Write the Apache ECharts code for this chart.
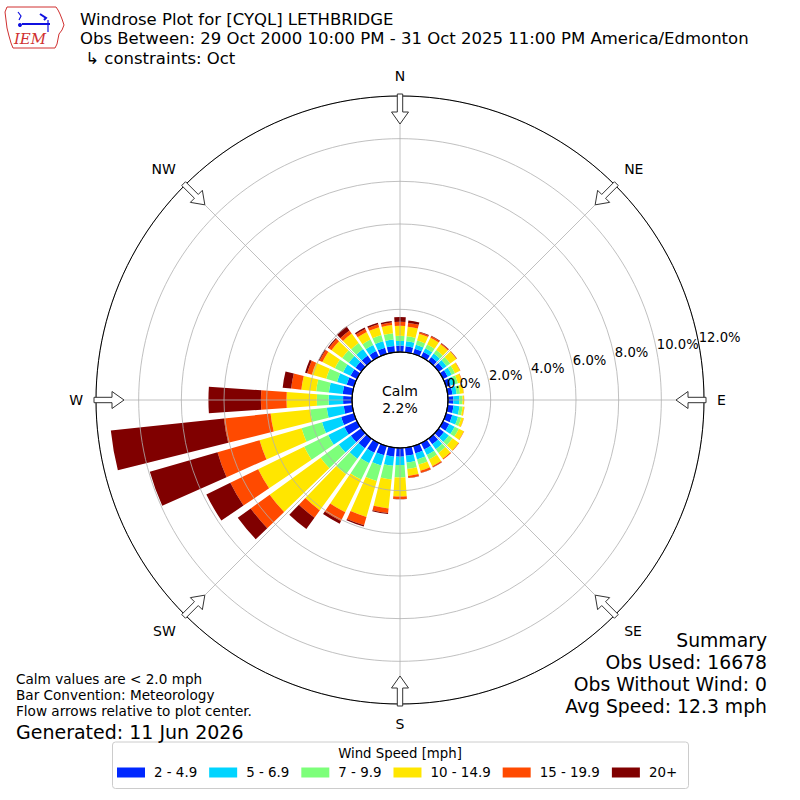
<!DOCTYPE html>
<html>
<head>
<meta charset="utf-8">
<script src="https://cdn.jsdelivr.net/npm/echarts@6/dist/echarts.min.js"></script>
<style>html,body{margin:0;padding:0;background:#fff}#c{width:800px;height:800px}</style>
</head>
<body>
<div id="c"></div>
<script>
// Wind directions (degrees, meteorological, bin centres)
const directions = ['0','10','20','30','40','50','60','70','80','90','100','110','120','130','140','150','160','170',
  '180','190','200','210','220','230','240','250','260','270','280','290','300','310','320','330','340','350'];
const speedBins = ['2 - 4.9', '5 - 6.9', '7 - 9.9', '10 - 14.9', '15 - 19.9', '20+'];
const binColors = ['#0028ff', '#00d4ff', '#7dff7a', '#ffe600', '#ff4a00', '#800000'];

// Frequency (%) per direction for each speed bin
const speed2to5 = [0.30,0.28,0.25,0.25,0.24,0.25,0.24,0.22,0.22,0.25,0.27,0.30,0.32,0.30,0.32,0.33,0.35,0.38,
  0.41,0.42,0.45,0.50,0.55,0.60,0.65,0.62,0.40,0.42,0.45,0.35,0.33,0.33,0.33,0.30,0.30,0.30];
const speed5to7 = [0.22,0.24,0.20,0.20,0.20,0.20,0.21,0.20,0.20,0.28,0.28,0.28,0.28,0.28,0.28,0.29,0.30,0.32,
  0.39,0.43,0.50,0.55,0.60,0.70,0.85,0.93,0.80,0.68,0.65,0.47,0.39,0.39,0.37,0.32,0.32,0.30];
const speed7to10 = [0.24,0.23,0.20,0.20,0.20,0.21,0.17,0.16,0.16,0.15,0.15,0.16,0.22,0.22,0.22,0.23,0.25,0.30,
  0.58,0.65,0.75,0.85,0.90,1.05,1.25,1.00,0.78,0.55,0.60,0.53,0.43,0.38,0.35,0.28,0.30,0.30];
const speed10to15 = [0.47,0.45,0.33,0.35,0.34,0.36,0.26,0.20,0.17,0.07,0.08,0.12,0.26,0.35,0.33,0.35,0.30,0.33,
  0.89,1.36,1.75,1.70,2.09,2.95,2.40,2.05,1.87,1.42,0.70,0.70,0.65,0.62,0.55,0.40,0.38,0.38];
const speed15to20 = [0.19,0.18,0.07,0.07,0.05,0.02,0.02,0.02,0.01,0.01,0.01,0.01,0.02,0.03,0.05,0.06,0.10,0.09,
  0.12,0.22,0.41,0.46,0.43,1.10,1.45,2.05,2.20,1.20,0.48,0.23,0.15,0.16,0.18,0.15,0.14,0.12];
const speed20plus = [0.22,0.12,0.03,0.03,0.02,0.01,0,0,0,0,0,0,0,0,0,0.01,0.01,0.01,
  0.01,0.04,0.06,0.14,0.65,0.75,1.25,3.30,5.33,2.46,0.40,0.10,0.05,0.05,0.24,0.08,0.08,0.07];

const compassLabels = ['N', 'NE', 'E', 'SE', 'S', 'SW', 'W', 'NW'];
const radiusMax = 12;
const radiusStep = 2;
const calmText = ['Calm', '2.2%'];
const titleLines = ['Windrose Plot for [CYQL] LETHBRIDGE',
  'Obs Between: 29 Oct 2000 10:00 PM - 31 Oct 2025 11:00 PM America/Edmonton',
  ' \u21b3 constraints: Oct'];
const noteLines = ['Calm values are < 2.0 mph', 'Bar Convention: Meteorology', 'Flow arrows relative to plot center.'];
const generatedText = 'Generated: 11 Jun 2026';
const summaryLines = ['Summary', 'Obs Used: 16678', 'Obs Without Wind: 0', 'Avg Speed: 12.3 mph'];
const legendTitle = 'Wind Speed [mph]';

const binValues = [speed2to5, speed5to7, speed7to10, speed10to15, speed15to20, speed20plus];
const FONT = '"DejaVu Sans", "Liberation Sans", sans-serif';
const CX = 400, CY = 400, R0 = 48, R1 = 304;

const chart = echarts.init(document.getElementById('c'), null, {renderer: 'svg'});

const graphics = [];
// title
titleLines.forEach((t, i) => graphics.push({type: 'text', z: 10, style: {text: t, x: 80, y: 19 + i * 19.5,
  fontSize: 16.5, lineHeight: 17, fontFamily: FONT, fill: '#000', align: 'left', verticalAlign: 'middle'}}));
// notes
noteLines.forEach((t, i) => graphics.push({type: 'text', z: 10, style: {text: t, x: 16, y: 679 + i * 16,
  fontSize: 13.6, lineHeight: 14, fontFamily: FONT, fill: '#000', align: 'left', verticalAlign: 'middle'}}));
graphics.push({type: 'text', z: 10, style: {text: generatedText, x: 16, y: 732, fontSize: 19, lineHeight: 19,
  fontFamily: FONT, fill: '#000', align: 'left', verticalAlign: 'middle'}});
summaryLines.forEach((t, i) => graphics.push({type: 'text', z: 10, style: {text: t, x: 767, y: 640 + i * 22,
  fontSize: 18.8, lineHeight: 20, fontFamily: FONT, fill: '#000', align: 'right', verticalAlign: 'middle'}}));
// calm
calmText.forEach((t, i) => graphics.push({type: 'text', z: 30, style: {text: t, x: CX, y: 391 + i * 17,
  fontSize: 14, lineHeight: 15, fontFamily: FONT, fill: '#000', align: 'center', verticalAlign: 'middle'}}));
graphics.push({type: 'circle', z: 25, shape: {cx: CX, cy: CY, r: R0}, style: {fill: 'none', stroke: '#000', lineWidth: 1.2}});
// flow arrows
compassLabels.forEach((lab, i) => {
  const t = i * 45 * Math.PI / 180;
  const u = [Math.sin(t), -Math.cos(t)], v = [Math.cos(t), Math.sin(t)];
  const shape = [[276, 0], [288, 8.5], [288, 2.7], [306, 2.7], [306, -2.7], [288, -2.7], [288, -8.5]];
  const pts = shape.map(([d, w]) => [CX + d * u[0] + w * v[0], CY + d * u[1] + w * v[1]]);
  graphics.push({type: 'polygon', z: 30, shape: {points: pts}, style: {fill: '#fff', stroke: '#333', lineWidth: 1}});
});
// legend box + title
graphics.push({type: 'rect', z: 1, shape: {x: 112.5, y: 742, width: 576, height: 46.5, r: 3},
  style: {fill: '#fff', stroke: '#cccccc', lineWidth: 1}});
graphics.push({type: 'text', z: 10, style: {text: legendTitle, x: 400, y: 753, fontSize: 13.3, fontFamily: FONT,
  fill: '#000', align: 'center', verticalAlign: 'middle'}});
// logo (IEM)
graphics.push({type: 'polyline', z: 10, shape: {points: [[7,7],[56,7],[58,10],[60,14],[62,19],[64,25],[62,30],[59,34],[58,39],[57,44],[55,48],[13,48],[11,43],[9,36],[7,28],[6,20],[5,12],[7,7]]},
  style: {fill: 'none', stroke: '#d03030', lineWidth: 1}});
graphics.push({type: 'polyline', z: 11, shape: {points: [[22,24],[50,24]]}, style: {stroke: '#1010e0', lineWidth: 2}});
graphics.push({type: 'polyline', z: 11, shape: {points: [[18,12],[21,16],[19,20]]}, style: {stroke: '#1010e0', lineWidth: 1.2, fill: 'none'}});
graphics.push({type: 'polyline', z: 11, shape: {points: [[40,14],[46,18],[44,20]]}, style: {stroke: '#1010e0', lineWidth: 2, fill: 'none'}});
graphics.push({type: 'polyline', z: 11, shape: {points: [[48,20],[48,32]]}, style: {stroke: '#1010e0', lineWidth: 1.2}});
graphics.push({type: 'circle', z: 11, shape: {cx: 20, cy: 25, r: 2}, style: {fill: '#1010e0'}});
graphics.push({type: 'text', z: 11, style: {text: 'IEM', x: 30, y: 39, fontSize: 15, fontStyle: 'italic',
  fontFamily: '"DejaVu Serif", "Liberation Serif", serif', fill: '#d03030', align: 'center', verticalAlign: 'middle'}});

const series = speedBins.map((name, i) => ({
  type: 'bar', name: name, coordinateSystem: 'polar', polarIndex: 0, stack: 'wind',
  data: binValues[i], itemStyle: {color: binColors[i]}, barCategoryGap: '20%', z: 2, silent: true
}));

chart.setOption({
  animation: false,
  backgroundColor: '#fff',
  polar: [
    {center: [CX, CY], radius: [R0, R1]},
    {center: [CX, CY], radius: [R0, R1]},
    {center: [CX, CY], radius: [R0, R1]}
  ],
  angleAxis: [
    {polarIndex: 0, type: 'category', data: directions, startAngle: 95, clockwise: true,
      axisLine: {show: false}, axisTick: {show: false}, axisLabel: {show: false}, splitLine: {show: false}},
    {polarIndex: 1, type: 'value', min: 0, max: 360, interval: 45, startAngle: 90, clockwise: true, z: 6,
      axisLine: {show: true, lineStyle: {color: '#000', width: 1}}, axisTick: {show: false},
      axisLabel: {show: true, margin: 13, fontSize: 14, color: '#000', fontFamily: FONT,
        align: 'center', verticalAlign: 'middle',
        formatter: v => (v < 360 ? compassLabels[Math.round(v / 45)] : '')},
      splitLine: {show: true, lineStyle: {color: '#b0b0b0', width: 0.8}}},
    {polarIndex: 2, type: 'value', min: 0, max: 360, startAngle: 10.5, clockwise: true,
      axisLine: {show: false}, axisTick: {show: false}, axisLabel: {show: false}, splitLine: {show: false}}
  ],
  radiusAxis: [
    {polarIndex: 0, min: 0, max: radiusMax, axisLine: {show: false}, axisTick: {show: false},
      axisLabel: {show: false}, splitLine: {show: false}},
    {polarIndex: 1, min: 0, max: radiusMax, interval: radiusStep, z: 5,
      axisLine: {show: false}, axisTick: {show: false}, axisLabel: {show: false},
      splitLine: {show: true, lineStyle: {color: '#b0b0b0', width: 0.8}}},
    {polarIndex: 2, min: 0, max: radiusMax, interval: radiusStep, z: 7,
      axisLine: {show: false}, axisTick: {show: false}, splitLine: {show: false},
      axisLabel: {show: true, margin: 1, fontSize: 13.2, color: '#000', fontFamily: FONT,
        align: 'left', verticalAlign: 'bottom', showMinLabel: true, showMaxLabel: true,
        formatter: v => v.toFixed(1) + '%'}}
  ],
  legend: {
    left: 117, top: 766, padding: 0, itemWidth: 28, itemHeight: 10, itemGap: 12, icon: 'rect', selectedMode: false,
    data: speedBins, z: 5,
    textStyle: {fontSize: 13.4, fontFamily: FONT, color: '#000', padding: [0, 0, 0, 4]}
  },
  tooltip: {show: false},
  graphic: {elements: graphics},
  series: series
});
</script>
</body>
</html>
